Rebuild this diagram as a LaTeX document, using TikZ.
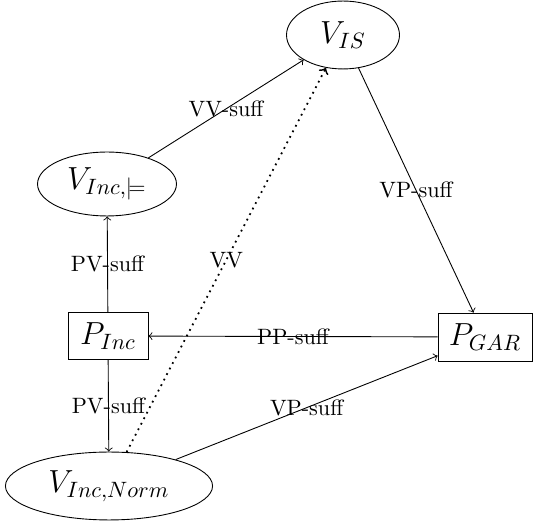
\documentclass[tikz,border=0pt]{standalone}
\usepackage{amssymb}
\usetikzlibrary{shapes.geometric}
\begin{document}
\begin{tikzpicture}[x=0.4505pt,y=-0.4505pt,
  ell/.style={draw,ellipse,inner sep=0pt,font=\Large},
  box/.style={draw,rectangle,inner sep=0pt,font=\Large},
  lab/.style={font=\normalsize},
  arr/.style={->}]
\useasboundingbox (0,0) rectangle (534,522);
\node[ell,minimum width=50.9pt,minimum height=30.6pt] (vis) at (343,35) {$V_{IS}$};
\node[ell,minimum width=62.6pt,minimum height=28.8pt] (vinc) at (107,184) {$V_{Inc,\models}$};
\node[box,minimum width=36.0pt,minimum height=21.2pt] (pinc) at (108,336) {$P_{Inc}$};
\node[box,minimum width=42.3pt,minimum height=21.6pt] (pgar) at (485,337) {$P_{GAR}$};
\node[ell,minimum width=93.3pt,minimum height=30.6pt] (vnorm) at (109,486) {$V_{Inc,Norm}$};
\draw[arr] (vinc) -- node[lab] {VV-suff} (vis);
\draw[arr] (vis) -- node[lab] {VP-suff} (pgar);
\draw[arr] (pgar) -- node[lab] {PP-suff} (pinc);
\draw[arr] (pinc) -- node[lab] {PV-suff} (vinc);
\draw[arr] (pinc) -- node[lab] {PV-suff} (vnorm);
\draw[arr] (vnorm) -- node[lab] {VP-suff} (pgar);
\draw[arr,dotted,thick] (vnorm) -- node[lab] {VV} (vis);
\end{tikzpicture}
\end{document}
